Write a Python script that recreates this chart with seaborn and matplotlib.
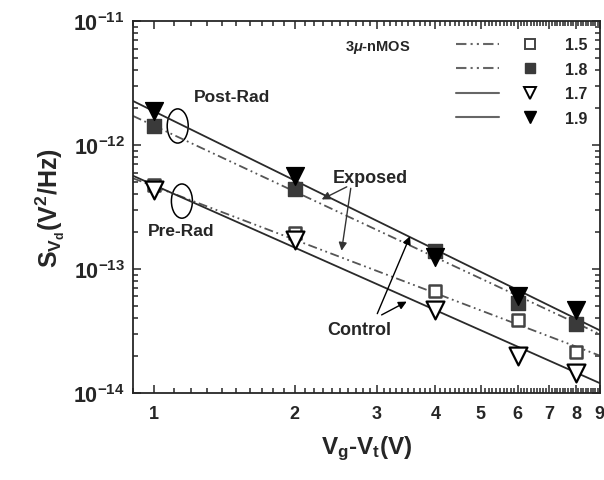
import numpy as np
import pandas as pd
import matplotlib
matplotlib.use("Agg")
import matplotlib.pyplot as plt
import seaborn as sns
from matplotlib.lines import Line2D
from matplotlib.patches import Ellipse
from matplotlib.legend_handler import HandlerTuple
from matplotlib.ticker import FixedLocator, NullFormatter

# gate overdrive (V)
vg = [1, 2, 4, 6, 8]

# noise PSD at each bias, one list per curve
s_15 = [4.8e-13, 1.94e-13, 6.6e-14, 3.9e-14, 2.14e-14]
s_18 = [1.43e-12, 4.44e-13, 1.41e-13, 5.3e-14, 3.6e-14]
s_17 = [4.3e-13, 1.7e-13, 4.66e-14, 2.0e-14, 1.44e-14]
s_19 = [1.87e-12, 5.6e-13, 1.26e-13, 6.0e-14, 4.65e-14]

# fit lines, read at the two ends of the x range
fit_x = [0.9, 9]
fit_15 = [5.4e-13, 2.0e-14]
fit_18 = [1.72e-12, 2.98e-14]
fit_17 = [5.66e-13, 1.2e-14]
fit_19 = [2.27e-12, 3.2e-14]

labels = ["1.5", "1.8", "1.7", "1.9"]
x_ticks = [1, 2, 3, 4, 5, 6, 7, 8, 9]
y_ticks = [1e-14, 1e-13, 1e-12, 1e-11]
y_ticklabels = [r"$\mathbf{10^{-14}}$", r"$\mathbf{10^{-13}}$",
                r"$\mathbf{10^{-12}}$", r"$\mathbf{10^{-11}}$"]

sns.set_style("ticks")
plt.rcParams["font.family"] = ["Liberation Sans", "DejaVu Sans"]
plt.rcParams["font.weight"] = "bold"
plt.rcParams["mathtext.fontset"] = "custom"
plt.rcParams["mathtext.rm"] = "Liberation Sans:bold"
plt.rcParams["mathtext.bf"] = "Liberation Sans:bold"
plt.rcParams["mathtext.it"] = "Liberation Sans:italic:bold"

fig = plt.figure(figsize=(6.04, 4.81), dpi=100)
ax = fig.add_axes([0.220, 0.181, 0.773, 0.773])

dashdot = (0, (5, 2, 1, 2, 1, 2))
line_col = "#2a2a2a"

fits = pd.DataFrame({"x": fit_x * 4,
                     "y": fit_15 + fit_18 + fit_17 + fit_19,
                     "set": sum([[l] * 2 for l in labels], [])})
styles = {"1.5": dashdot, "1.8": dashdot, "1.7": "-", "1.9": "-"}
cols = {"1.5": "#555555", "1.8": "#555555", "1.7": line_col, "1.9": line_col}
for lab in labels:
    d = fits[fits["set"] == lab]
    sns.lineplot(data=d, x="x", y="y", ax=ax, color=cols[lab],
                 linestyle=styles[lab], linewidth=1.3, zorder=2)

sns.scatterplot(x=vg, y=s_15, ax=ax, marker="s", s=85, color="white",
                edgecolor="#444444", linewidth=1.8, zorder=3)
sns.scatterplot(x=vg, y=s_18, ax=ax, marker="s", s=100, color="#3a3a3a",
                edgecolor="#3a3a3a", linewidth=1, zorder=3)
sns.scatterplot(x=vg, y=s_17, ax=ax, marker="v", s=165, color="white",
                edgecolor="black", linewidth=1.6, zorder=3)
sns.scatterplot(x=vg, y=s_19, ax=ax, marker="v", s=165, color="black",
                edgecolor="black", linewidth=1, zorder=4)

ax.set_xscale("log")
ax.set_yscale("log")
ax.set_xlim(0.9, 9)
ax.set_ylim(1e-14, 1e-11)

ax.xaxis.set_major_locator(FixedLocator(x_ticks))
ax.set_xticklabels([str(t) for t in x_ticks])
ax.xaxis.set_minor_locator(FixedLocator(np.arange(0.9, 9.0, 0.1)))
ax.xaxis.set_minor_formatter(NullFormatter())
ax.set_yticks(y_ticks)
ax.set_yticklabels(y_ticklabels)

ax.tick_params(which="both", direction="in", top=True, right=True, width=1.1)
ax.tick_params(which="major", length=6)
ax.tick_params(axis="x", which="major", pad=9, labelsize=13)
ax.tick_params(axis="y", which="major", pad=6, labelsize=15.5)
ax.tick_params(which="minor", length=3.5)
for sp in ax.spines.values():
    sp.set_linewidth(1.3)

ax.set_xlabel(r"$\mathbf{V_g}$-$\mathbf{V_t}$(V)", fontsize=17.5, fontweight="bold",
              labelpad=8)
ax.set_ylabel(r"$\mathbf{S_{V_d}}$(V$^\mathbf{2}$/Hz)", fontsize=18,
              fontweight="bold", labelpad=4)

# legend: line sample, marker, label
leg_lines = [Line2D([], [], color="#666666", lw=1.5, ls=dashdot),
             Line2D([], [], color="#666666", lw=1.5, ls=dashdot),
             Line2D([], [], color="#666666", lw=1.5, ls="-"),
             Line2D([], [], color="#666666", lw=1.5, ls="-")]
leg_marks = [Line2D([], [], ls="none", marker="s", ms=7, mfc="white", mec="#444444", mew=1.4),
             Line2D([], [], ls="none", marker="s", ms=7, mfc="#3a3a3a", mec="#3a3a3a"),
             Line2D([], [], ls="none", marker="v", ms=8, mfc="white", mec="black", mew=1.4),
             Line2D([], [], ls="none", marker="v", ms=8, mfc="black", mec="black")]
ax.legend(handles=list(zip(leg_lines, leg_marks)), labels=labels,
          handler_map={tuple: HandlerTuple(ndivide=None, pad=0.6)},
          loc="upper left", bbox_to_anchor=(0.675, 0.978), frameon=False,
          handlelength=6.0, handletextpad=0.8, labelspacing=0.6,
          borderpad=0, prop={"size": 11.5, "weight": "bold"})
ax.text(0.525, 0.933, r"3$\mathit{\mu}$-nMOS", transform=ax.transAxes,
        ha="center", va="center", fontsize=10.5, fontweight="bold")

# annotations
ax.text(1.47, 2.45e-12, "Post-Rad", ha="center", va="center", fontsize=12.5,
        fontweight="bold")
ax.text(1.14, 2.05e-13, "Pre-Rad", ha="center", va="center", fontsize=12.5,
        fontweight="bold")
ax.add_patch(Ellipse((0.096, 0.718), 0.045, 0.092, transform=ax.transAxes,
                     fill=False, edgecolor="black", lw=1.1))
ax.add_patch(Ellipse((0.105, 0.516), 0.045, 0.092, transform=ax.transAxes,
                     fill=False, edgecolor="black", lw=1.1))

ax.text(2.90, 5.46e-13, "Exposed", ha="center", va="center", fontsize=13,
        fontweight="bold")
arrow = dict(arrowstyle="-|>", color="#333333", lw=1.0, mutation_scale=12)
ax.annotate("", xy=(2.256, 3.56e-13), xytext=(2.616, 4.71e-13), arrowprops=arrow)
ax.annotate("", xy=(2.514, 1.335e-13), xytext=(2.641, 4.71e-13), arrowprops=arrow)

ax.text(2.748, 3.27e-14, "Control", ha="center", va="center", fontsize=13,
        fontweight="bold")
arrow2 = dict(arrowstyle="-|>", color="black", lw=1.0, mutation_scale=12)
ax.annotate("", xy=(3.55, 1.93e-13), xytext=(2.988, 4.16e-14), arrowprops=arrow2)
ax.annotate("", xy=(3.516, 5.59e-14), xytext=(3.032, 4.16e-14), arrowprops=arrow2)

fig.savefig("out.png", dpi=100)
